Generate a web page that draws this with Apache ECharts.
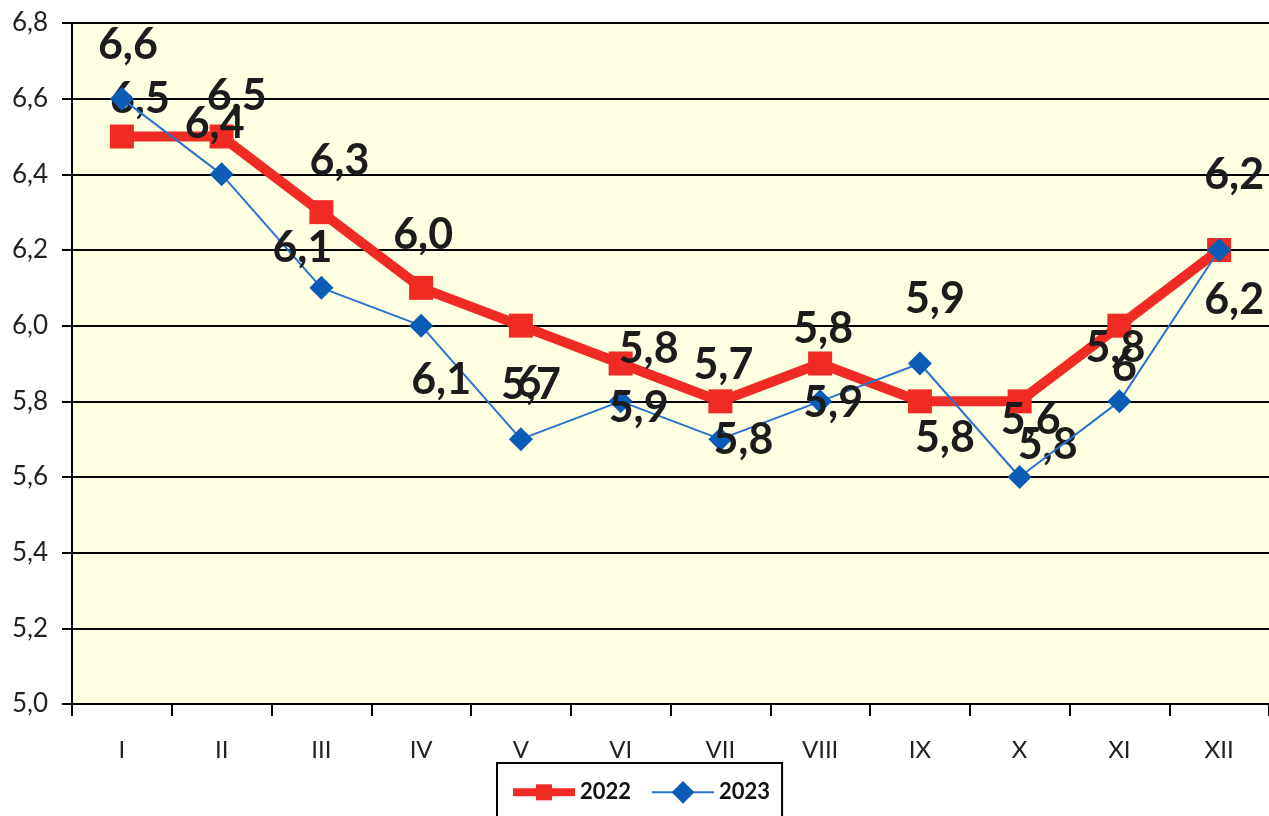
<!DOCTYPE html>
<html>
<head>
<meta charset="utf-8">
<script src="https://cdn.jsdelivr.net/npm/echarts@6/dist/echarts.min.js"></script>
<style>
  html, body { margin: 0; padding: 0; background: #fff; }
  #main { width: 1269px; height: 816px; }
</style>
</head>
<body>
<div id="main"></div>
<script>
// months
var months = ['I','II','III','IV','V','VI','VII','VIII','IX','X','XI','XII'];
// plotted values
var values2022 = [6.5, 6.5, 6.3, 6.1, 6.0, 5.9, 5.8, 5.9, 5.8, 5.8, 6.0, 6.2];
var values2023 = [6.6, 6.4, 6.1, 6.0, 5.7, 5.8, 5.7, 5.8, 5.9, 5.6, 5.8, 6.2];
// data label texts as printed on the original
var labels2022 = ['6,5','6,5','6,3','6,0','6','5,8','5,7','5,8','5,8','5,8','6','6,2'];
var labels2023 = ['6,6','6,4','6,1','6,1','5,7','5,9','5,8','5,9','5,9','5,6','5,8','6,2'];
var yTicks = { min: 5.0, max: 6.8, step: 0.2 };

// label placement (style only, pixels relative to the marker)
var shift2022 = [[18,-37],[15,-40],[18,-51],[2,-53],[8,57],[28,-14],[3,-36],[3,-34],[25,37],[28,44],[5,41],[15,-75]];
var shift2023 = [[6,-54],[-7,-50],[-19,-40],[20,54],[10,-54],[18,7],[23,1],[13,2],[15,-64],[11,-57],[-4,-53],[15,50]];

var myChart = echarts.init(document.getElementById('main'));

function withLabels(vals, texts, shifts) {
    var out = [];
    for (var i = 0; i < vals.length; i++) {
        out.push({
            value: vals[i],
            label: { formatter: texts[i], offset: shifts[i] }
        });
    }
    return out;
}

var labelStyle = {
    show: true,
    position: 'inside',
    fontFamily: 'Lato',
    fontWeight: 'bold',
    fontSize: 43,
    color: '#1c1c1c'
};

myChart.setOption({
    animation: false,
    backgroundColor: '#fff',
    textStyle: { fontFamily: 'Lato' },
    grid: {
        left: 72, top: 23, width: 1200, height: 681,
        show: true, backgroundColor: '#FFFFE2', borderWidth: 0
    },
    legend: {
        left: 497, top: 763,
        padding: [18, 12, 24, 12],
        itemGap: 20,
        itemWidth: 62, itemHeight: 20,
        borderColor: '#000', borderWidth: 2,
        backgroundColor: '#fff',
        textStyle: { fontFamily: 'Lato', fontWeight: 'bold', fontSize: 22, color: '#111' },
        data: [
            { name: '2022', lineStyle: { width: 8 } },
            { name: '2023' }
        ]
    },
    xAxis: {
        type: 'category',
        data: months,
        boundaryGap: true,
        axisLine: { lineStyle: { color: '#000', width: 2 } },
        axisTick: { show: true, interval: 0, length: 12, lineStyle: { color: '#000', width: 2 } },
        axisLabel: { margin: 34, fontSize: 24, color: '#222', fontFamily: 'Lato' }
    },
    yAxis: {
        type: 'value',
        min: yTicks.min, max: yTicks.max, interval: yTicks.step,
        axisLine: { show: true, lineStyle: { color: '#000', width: 2 } },
        axisTick: { show: true, length: 10, lineStyle: { color: '#000', width: 2 } },
        splitLine: { lineStyle: { color: '#000', width: 2 } },
        axisLabel: {
            margin: 24, fontSize: 26, color: '#222', fontFamily: 'Lato',
            formatter: function (v) { return v.toFixed(1).replace('.', ','); }
        }
    },
    series: [
        {
            name: '2022',
            type: 'line',
            data: withLabels(values2022, labels2022, shift2022),
            symbol: 'rect',
            symbolSize: 24,
            itemStyle: { color: '#EF2B24' },
            lineStyle: { color: '#EF2B24', width: 10 },
            label: labelStyle,
            z: 2
        },
        {
            name: '2023',
            type: 'line',
            data: withLabels(values2023, labels2023, shift2023),
            symbol: 'rect',
            symbolRotate: 45,
            symbolSize: 17,
            itemStyle: { color: '#0B5CB5' },
            lineStyle: { color: '#2A72CF', width: 2 },
            label: labelStyle,
            z: 3
        }
    ]
});
</script>
</body>
</html>
